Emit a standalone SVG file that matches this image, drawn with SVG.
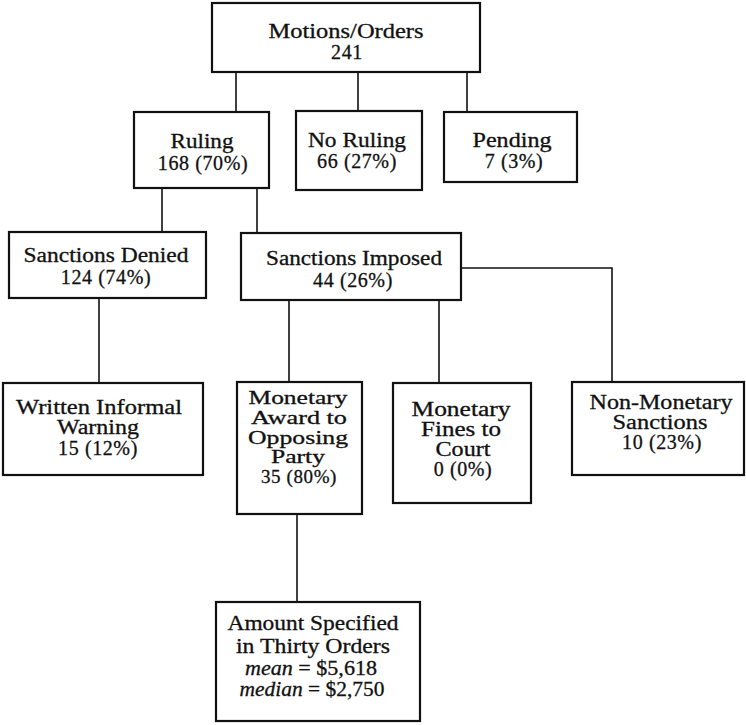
<svg xmlns="http://www.w3.org/2000/svg" width="746" height="725" viewBox="0 0 746 725">
<style>
.box{fill:#fff;stroke:#111;stroke-width:2.2}
.con{fill:none;stroke:#111;stroke-width:1.6}
text{font-family:"Liberation Serif","Times New Roman",serif;font-size:20px;fill:#111;stroke:#111;stroke-width:0.3;text-anchor:middle}
.num{letter-spacing:0.6px}
.sm{font-size:19px}
.it{font-style:italic}
</style>
<rect width="746" height="725" fill="#fff"/>
<g id="connectors">
<path class="con" d="M236 72V112M358 72V111M467 72V112"/>
<path class="con" d="M162 188V232M257 188V233"/>
<path class="con" d="M99 298V383"/>
<path class="con" d="M289 300V382M439 300V383M461 268H612V382"/>
<path class="con" d="M297 514V602"/>
</g>
<g id="n-motions">
<rect class="box" x="212" y="3" width="268" height="69"/>
<text x="346" y="38" textLength="155" lengthAdjust="spacingAndGlyphs">Motions/Orders</text>
<text x="347" y="59" class="num">241</text>
</g>
<g id="n-ruling">
<rect class="box" x="134" y="112" width="135" height="76"/>
<text x="202" y="148" textLength="63" lengthAdjust="spacingAndGlyphs">Ruling</text>
<text x="203" y="170" class="num">168 (70%)</text>
</g>
<g id="n-noruling">
<rect class="box" x="296" y="111" width="126" height="79"/>
<text x="357" y="147" textLength="98" lengthAdjust="spacingAndGlyphs">No Ruling</text>
<text x="357" y="168" class="num">66 (27%)</text>
</g>
<g id="n-pending">
<rect class="box" x="444" y="112" width="133" height="70"/>
<text x="512" y="147" textLength="79" lengthAdjust="spacingAndGlyphs">Pending</text>
<text x="514" y="168" class="num">7 (3%)</text>
</g>
<g id="n-denied">
<rect class="box" x="9" y="232" width="197" height="66"/>
<text x="106" y="262" textLength="165" lengthAdjust="spacingAndGlyphs">Sanctions Denied</text>
<text x="106" y="284" class="num">124 (74%)</text>
</g>
<g id="n-imposed">
<rect class="box" x="241" y="233" width="220" height="67"/>
<text x="354" y="265" textLength="176" lengthAdjust="spacingAndGlyphs">Sanctions Imposed</text>
<text x="353" y="287" class="num">44 (26%)</text>
</g>
<g id="n-warning">
<rect class="box" x="3" y="383" width="200" height="92"/>
<text x="99" y="414" textLength="166" lengthAdjust="spacingAndGlyphs">Written Informal</text>
<text x="98" y="434" textLength="82" lengthAdjust="spacingAndGlyphs">Warning</text>
<text x="98" y="455" class="num">15 (12%)</text>
</g>
<g id="n-award">
<rect class="box" x="237" y="382" width="125" height="132"/>
<text class="sm" x="298" y="404" textLength="99" lengthAdjust="spacingAndGlyphs">Monetary</text>
<text class="sm" x="299" y="424" textLength="96" lengthAdjust="spacingAndGlyphs">Award to</text>
<text class="sm" x="298" y="444" textLength="100" lengthAdjust="spacingAndGlyphs">Opposing</text>
<text class="sm" x="298" y="463" textLength="54" lengthAdjust="spacingAndGlyphs">Party</text>
<text class="sm num" x="299" y="483">35 (80%)</text>
</g>
<g id="n-fines">
<rect class="box" x="393" y="383" width="138" height="120"/>
<text x="461" y="416" textLength="99" lengthAdjust="spacingAndGlyphs">Monetary</text>
<text x="461" y="436" textLength="80" lengthAdjust="spacingAndGlyphs">Fines to</text>
<text x="463" y="456" textLength="55" lengthAdjust="spacingAndGlyphs">Court</text>
<text x="463" y="476" class="num">0 (0%)</text>
</g>
<g id="n-nonmon">
<rect class="box" x="572" y="382" width="172" height="93"/>
<text x="661" y="409" textLength="143" lengthAdjust="spacingAndGlyphs">Non-Monetary</text>
<text x="660" y="429" textLength="95" lengthAdjust="spacingAndGlyphs">Sanctions</text>
<text x="662" y="449" class="num">10 (23%)</text>
</g>
<g id="n-amount">
<rect class="box" x="216" y="602" width="204" height="119"/>
<text x="313" y="630" textLength="171" lengthAdjust="spacingAndGlyphs">Amount Specified</text>
<text x="313" y="653" textLength="154" lengthAdjust="spacingAndGlyphs">in Thirty Orders</text>
<text x="311" y="675" textLength="132" lengthAdjust="spacingAndGlyphs"><tspan class="it">mean</tspan> = $5,618</text>
<text x="312" y="696" textLength="145" lengthAdjust="spacingAndGlyphs"><tspan class="it">median</tspan> = $2,750</text>
</g>
</svg>
